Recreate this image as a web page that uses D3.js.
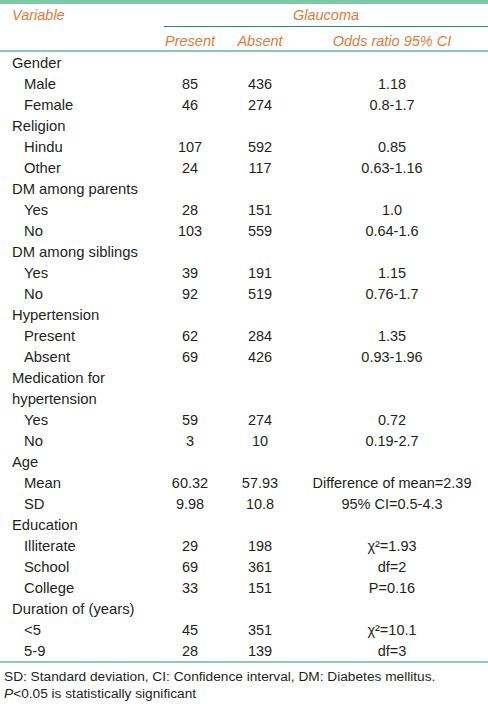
<!DOCTYPE html>
<html><head><meta charset="utf-8">
<script src="https://cdn.jsdelivr.net/npm/d3@7"></script>
<style>
html,body{margin:0;padding:0;background:#fff;}
svg{display:block;}
</style></head>
<body>
<svg id="chart" width="488" height="704"></svg>
<script>
// ---- data ----
const headerVariable = "Variable";
const headerGroup = "Glaucoma";
const columnHeaders = ["Present", "Absent", "Odds ratio 95% CI"];
const rowLabels = ["Gender","Male","Female","Religion","Hindu","Other","DM among parents","Yes","No",
  "DM among siblings","Yes","No","Hypertension","Present","Absent","Medication for","hypertension","Yes","No",
  "Age","Mean","SD","Education","Illiterate","School","College","Duration of (years)","<5","5-9"];
const rowLevel = [0,1,1,0,1,1,0,1,1,0,1,1,0,1,1,0,0,1,1,0,1,1,0,1,1,1,0,1,1];
const presentValues = ["","85","46","","107","24","","28","103","","39","92","","62","69","","","59","3","","60.32","9.98","","29","69","33","","45","28"];
const absentValues = ["","436","274","","592","117","","151","559","","191","519","","284","426","","","274","10","","57.93","10.8","","198","361","151","","351","139"];
const oddsValues = ["","1.18","0.8-1.7","","0.85","0.63-1.16","","1.0","0.64-1.6","","1.15","0.76-1.7","","1.35","0.93-1.96","","","0.72","0.19-2.7","","Difference of mean=2.39","95% CI=0.5-4.3","","χ²=1.93","df=2","P=0.16","","χ²=10.1","df=3"];
const footnote1 = "SD: Standard deviation, CI: Confidence interval, DM: Diabetes mellitus.";
const footnote2 = ["P", "<0.05 is statistically significant"];

// ---- layout ----
const W = 488;
const svg = d3.select("#chart");
const font = "'Liberation Sans', Arial, sans-serif";
const orange = "#e07b3c";
const ink = "#231f20";
const teal = "#2a8a6c";

svg.append("rect").attr("x",0).attr("y",0).attr("width",W).attr("height",4).attr("fill","#7dc6a6");

const cols = d3.scaleOrdinal().domain(columnHeaders).range([190, 260, 392]);

const y = d3.scaleBand().domain(d3.range(rowLabels.length)).range([52.5, 661.5]);

svg.append("text").attr("x",12).attr("y",20).attr("font-family",font).attr("font-style","italic")
  .attr("font-size",14.5).attr("fill",orange).text(headerVariable);
svg.append("text").attr("x",326).attr("y",20).attr("text-anchor","middle").attr("font-family",font)
  .attr("font-style","italic").attr("font-size",14.5).attr("fill",orange).text(headerGroup);
svg.append("line").attr("x1",164).attr("x2",W).attr("y1",26.5).attr("y2",26.5).attr("stroke",teal).attr("stroke-width",1);
svg.selectAll("text.ch").data(columnHeaders).join("text").attr("class","ch")
  .attr("x",d=>cols(d)).attr("y",45.5).attr("text-anchor","middle").attr("font-family",font)
  .attr("font-style","italic").attr("font-size",14.5).attr("fill",orange).text(d=>d);
svg.append("line").attr("x1",0).attr("x2",W).attr("y1",51).attr("y2",51).attr("stroke",teal).attr("stroke-width",1.2);

const rows = svg.selectAll("g.row").data(rowLabels.map((l,i)=>({l,i}))).join("g").attr("class","row")
  .attr("transform",d=>`translate(0,${y(d.i)+y.bandwidth()/2+5})`);
rows.append("text").attr("x",d=>rowLevel[d.i]?24:12).attr("font-family",font).attr("font-size",14.8)
  .attr("fill",ink).text(d=>d.l);
const valueCols = [presentValues, absentValues, oddsValues];
valueCols.forEach((arr,k)=>{
  rows.append("text").attr("x",cols(columnHeaders[k])).attr("text-anchor","middle")
    .attr("font-family",font).attr("font-size",14.5).attr("fill",ink).text(d=>arr[d.i]);
});

svg.append("line").attr("x1",0).attr("x2",W).attr("y1",662).attr("y2",662).attr("stroke",teal).attr("stroke-width",1.2);
svg.append("text").attr("x",4).attr("y",680.5).attr("font-family",font).attr("font-size",13.7).attr("fill",ink).text(footnote1);
const f2 = svg.append("text").attr("x",4).attr("y",697.5).attr("font-family",font).attr("font-size",13.7).attr("fill",ink);
f2.append("tspan").attr("font-style","italic").text(footnote2[0]);
f2.append("tspan").text(footnote2[1]);
</script>
</body></html>
